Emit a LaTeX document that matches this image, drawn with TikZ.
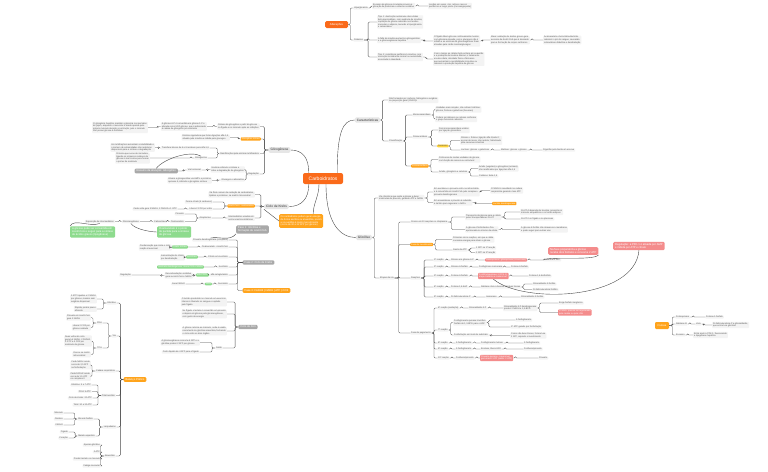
\documentclass[tikz,border=0pt]{standalone}
\usepackage{fontspec}
\setmainfont{Liberation Sans}
\definecolor{mainor}{HTML}{FA6A1A}
\definecolor{ortwo}{HTML}{FFA41C}
\definecolor{grnode}{HTML}{A9A9A9}
\definecolor{ltnode}{HTML}{E6E6E6}
\definecolor{gnnode}{HTML}{8EDB8E}
\definecolor{rdnode}{HTML}{F48C8C}
\definecolor{ylnode}{HTML}{FFD43B}
\definecolor{boxbg}{HTML}{F3F3F3}
\definecolor{txt}{HTML}{555555}
\definecolor{ln}{HTML}{4A4A4A}
\tikzset{
 tb/.style={fill=boxbg, text=txt, rounded corners=0.8pt, inner xsep=1pt, inner ysep=0.7pt, align=left, font=\fontsize{2.2}{2.6}\selectfont},
 bR/.style={tb, anchor=west}, bL/.style={tb, anchor=east},
 orb/.style={fill=ortwo, text=white},
 grb/.style={fill=grnode, text=white},
 gnb/.style={fill=gnnode, text=white},
 rdb/.style={fill=rdnode, text=white},
 ylb/.style={fill=ylnode, text=txt},
 ltb/.style={tb, fill=ltnode, text=black!80, font=\fontsize{3.2}{3.8}\selectfont, inner xsep=2pt, inner ysep=1.4pt, rounded corners=1.5pt},
 big/.style={font=\fontsize{2.7}{3.2}\selectfont, inner ysep=1.2pt, inner xsep=2pt, rounded corners=1.2pt},
 cn/.style={draw=ln, line width=0.35pt, rounded corners=1.2pt},
 rel/.style={draw=ln, line width=0.4pt},
}
\newcommand\rk[3]{\foreach \q in {#3}{\draw[cn] (#1.east) -- ++(#2,0) |- (\q.west);}}
\newcommand\lk[3]{\foreach \q in {#3}{\draw[cn] (#1.west) -- ++(-#2,0) |- (\q.east);}}
\begin{document}
\begin{tikzpicture}[x=1pt,y=-1pt]
\fill[white] (0,0) rectangle (768,471);
\useasboundingbox (0,0) rectangle (768,471);

% ---------- central
\node[fill=mainor, text=white, rounded corners=2pt, font=\fontsize{5}{6}\selectfont, minimum width=40pt, minimum height=11pt, inner sep=1pt] (cb) at (323,178.5) {Carboidratos};

% ---------- Alteracoes (top)
\node[fill=mainor, text=white, rounded corners=1.5pt, font=\fontsize{2.8}{3.2}\selectfont, minimum width=23pt, minimum height=7pt, inner sep=0.5pt] (alt) at (336.5,24.5) {Alterações};
\node[bR] (A1) at (353,8) {Hiperglicemia};
\node[bR] (A11) at (372,6) {Excesso de glicose circulante provoca a\\glicação de proteínas e estresse oxidativo};
\node[bR] (A111) at (428,6) {Lesões em vasos, rins, retina e nervos\\periféricos a longo prazo (microangiopatia)};
\node[bR] (A2) at (353,40) {Diabetes};
\node[bR] (A21) at (377,22) {Tipo 1: destruição autoimune das células\\beta pancreáticas, com ausência de insulina;\\captação de glicose reduzida nos tecidos\\muscular e adiposo, levando a hiperglicemia\\e cetoacidose};
\node[bR] (A22) at (377,40) {A falta de insulina aumenta a glicogenólise\\e a gliconeogênese hepática};
\node[bR] (A23) at (377,57) {Tipo 2: resistência periférica à insulina, com\\secreção inicialmente normal ou aumentada,\\associada à obesidade};
\node[bR] (A221) at (433,41) {O fígado libera glicose continuamente mesmo\\com glicemia elevada, pois o glucagon não é\\inibido e as enzimas da gliconeogênese ficam\\ativadas pela razão insulina/glucagon};
\node[bR] (A2211) at (490,40) {Maior oxidação de ácidos graxos gera\\excesso de Acetil-CoA que é desviado\\para a formação de corpos cetônicos};
\node[bR] (A22111) at (543,40) {Acetoacetato e beta-hidroxibutirato\\reduzem o pH do sangue, causando\\cetoacidose diabética e desidratação};
\node[bR] (A231) at (433,59) {Com o tempo as células beta entram em exaustão\\e a produção de insulina diminui; o tratamento\\envolve dieta, atividade física e fármacos\\que aumentam a sensibilidade à insulina ou\\reduzem a produção hepática de glicose};
\rk{alt}{2}{A1,A2}
\rk{A1}{2}{A11}\rk{A11}{2}{A111}
\rk{A2}{4}{A21,A22,A23}
\rk{A22}{3}{A221}\rk{A221}{2}{A2211}\rk{A2211}{2}{A22111}\rk{A23}{3}{A231}

% ---------- Caracteristicas
\node[ltb] (C0) at (367.5,120) {Características};
\node[bR] (C1) at (388,100) {São formados por carbono, hidrogênio e oxigênio\\na proporção geral (CH2O)n};
\node[bR] (C2) at (388,141) {Classificação};
\node[bR] (C21) at (412,115) {Monossacarídeos};
\node[bR] (C211) at (435,109.5) {Unidades mais simples, não sofrem hidrólise:\\glicose, frutose e galactose (hexoses)};
\node[bR] (C212) at (435,119) {Podem ser aldoses ou cetoses conforme\\o grupo funcional carbonila};
\node[bR] (C22) at (412,137) {Dissacarídeos};
\node[bR] (C221) at (438,130) {Dois monossacarídeos unidos\\por ligação glicosídica};
\node[bR,ylb] (C222) at (437,146) {Sacarose};
\node[bR] (C2221) at (460,140.5) {Glicose + frutose, ligação alfa-1,beta-2;\\açúcar de mesa, não redutor, hidrolisado\\pela sacarase intestinal};
\node[bR] (C2222) at (460,150) {Lactose: glicose + galactose};
\node[bR] (C2223) at (500,150) {Maltose: glicose + glicose};
\node[bR] (C2224) at (542,150) {Digestão pela borda em escova};
\node[bR,orb] (C23) at (411,166) {Polissacarídeos};
\node[bR] (C231) at (438,159.5) {Polímeros de muitas unidades de glicose\\com função de reserva ou estrutural};
\node[bR] (C232) at (438,172) {Amido, glicogênio e celulose};
\node[bR] (C2321) at (478,168.5) {Amido (vegetais) e glicogênio (animais)\\são ramificados por ligações alfa-1,6};
\node[bR] (C2322) at (478,176) {Celulose: beta-1,4};
\rk{C0}{2}{C1,C2}
\rk{C2}{2}{C21,C22,C23}
\rk{C21}{2}{C211,C212}
\rk{C22}{3}{C221,C222}
\rk{C222}{1.5}{C2221,C2222}
\rk{C2222}{2}{C2223}\rk{C2223}{3}{C2224}
\rk{C23}{2}{C231,C232}
\rk{C232}{2}{C2321,C2322}

% ---------- Glicolise
\node[ltb] (G0) at (364,237.5) {Glicólise};
\node[bR] (G1) at (378,198) {Via citosólica que oxida a glicose a duas\\moléculas de piruvato, gerando ATP e NADH};
\node[bR] (G11) at (433,192) {Em aerobiose o piruvato entra na mitocôndria\\e é convertido em Acetil-CoA pelo complexo\\piruvato desidrogenase};
\node[bR] (G111) at (490,190.5) {O NADH é reoxidado na cadeia\\respiratória gerando mais ATP};
\node[bR] (G12) at (433,202.5) {Em anaerobiose o piruvato é reduzido\\a lactato para regenerar o NAD+};
\node[bR,orb] (G121) at (492,203.5) {Lactato desidrogenase};
\node[bR] (G2) at (379,278) {Etapas da via};
\node[bR] (G21) at (410,222) {Ocorre em 10 reações no citoplasma};
\node[bR] (G211) at (465,217) {Transporte da glicose para a célula\\pelos transportadores GLUT};
\node[bR] (G2111) at (520,212) {GLUT-4 depende de insulina, presente no\\músculo esquelético e no tecido adiposo};
\node[bR] (G2112) at (520,219) {GLUT-2 no fígado e no pâncreas};
\node[bR] (G212) at (465,229.5) {A glicose é fosforilada e fica\\aprisionada no interior da célula};
\node[bR] (G2121) at (520,229.5) {A glicose-6-fosfato não atravessa a membrana\\e pode seguir para outras vias};
\node[bR,orb] (G22) at (410,244.5) {Fase de investimento};
\node[bR] (G221) at (452,239.5) {Primeiras cinco reações, em que a célula\\consome energia para ativar a glicose};
\node[bR] (G222) at (452,250) {Gasto de ATP};
\node[bR] (G2221) at (475,248) {1 ATP na 1ª reação};
\node[bR] (G2222) at (475,252.5) {1 ATP na 3ª reação};
\node[bR] (G23) at (410,278) {Reações};
\node[bR] (G24) at (410,333) {Fase de pagamento};
\rk{G0}{2}{G1,G2}
\rk{G1}{3}{G11,G12}\rk{G11}{1}{G111}\rk{G12}{3}{G121}
\rk{G2}{4}{G21,G22,G23,G24}
\rk{G21}{3}{G211,G212}\rk{G211}{3}{G2111,G2112}\rk{G212}{3}{G2121}
\rk{G22}{2}{G221,G222}\rk{G222}{2}{G2221,G2222}

% rows of investment phase
\node[bR] (r1a) at (433,260) {1ª reação};
\node[bR] (r1b) at (450,260) {Glicose em glicose-6-P};
\node[bR,rdb] (r1c) at (485,260) {Hexoquinase / glicoquinase (irreversível)};
\node[bR] (r1d) at (543,260) {Consome 1 ATP};
\node[bR] (r2a) at (433,267) {2ª reação};
\node[bR] (r2b) at (450,267) {Glicose-6-fosfato};
\node[bR] (r2c) at (478,267) {Fosfoglicose isomerase};
\node[bR] (r2d) at (510,267) {Frutose-6-fosfato};
\node[bR] (r3a) at (433,276) {3ª reação};
\node[bR] (r3b) at (450,276) {Frutose-6-fosfato};
\node[bR,rdb] (r3c) at (478,276) {Fosfofrutoquinase-1 (PFK-1),\\etapa limitante e irreversível};
\node[bR] (r3d) at (528,276) {Frutose-1,6-bisfosfato};
\node[bR] (r4a) at (433,287) {4ª reação};
\node[bR] (r4b) at (450,287) {Frutose-1,6-bisP};
\node[bR] (r4c) at (480,287) {Aldolase cliva a hexose em duas trioses};
\node[bR] (r4d) at (532,284) {Gliceraldeído-3-fosfato};
\node[bR] (r4e) at (532,289.5) {Di-hidroxiacetona fosfato};
\node[bR] (r5a) at (433,297) {5ª reação};
\node[bR] (r5b) at (450,297) {Di-hidroxiacetona-P};
\node[bR] (r5c) at (485,297) {Isomerase};
\node[bR] (r5d) at (520,297) {Gliceraldeído-3-fosfato};
\rk{G23}{3}{r1a,r2a,r3a,r4a,r5a}
\rk{r1a}{2}{r1b}\rk{r1b}{2}{r1c}\rk{r1c}{2}{r1d}
\rk{r2a}{2}{r2b}\rk{r2b}{2}{r2c}\rk{r2c}{1}{r2d}
\rk{r3a}{2}{r3b}\rk{r3b}{2}{r3c}\rk{r3c}{2}{r3d}
\rk{r4a}{2}{r4b}\rk{r4b}{2}{r4c}\rk{r4c}{2}{r4d,r4e}
\rk{r5a}{2}{r5b}\rk{r5b}{3}{r5c}\rk{r5c}{3}{r5d}

% rows of payoff phase
\node[bR] (sAa) at (437,308) {6ª reação (oxidação)};
\node[bR] (sAb) at (468,308) {Gliceraldeído-3-P};
\node[bR] (sAc) at (503,308) {Gliceraldeído-3-P desidrogenase\\produz 2 NADH e 1,3-BPG};
\node[bR] (sAd) at (558,303) {Exige fosfato inorgânico};
\node[bR,rdb] (sAe) at (558,312.5) {O NAD+ precisa ser regenerado\\pela cadeia ou pela LDH};
\node[bR] (sBa) at (437,330) {7ª reação};
\node[bR] (sB1) at (453,322.5) {Fosfoglicerato quinase transfere\\fosfato do 1,3-BPG para o ADP};
\node[bR] (sB11) at (515,320) {3-fosfoglicerato};
\node[bR] (sB12) at (510,327) {1º ATP gerado por fosforilação};
\node[bR] (sB2) at (453,335) {Fosforilação em nível de substrato};
\node[bR] (sB21) at (510,335.5) {Como são duas trioses, formam-se\\2 ATP, repondo o investimento};
\node[bR] (sCa) at (437,343) {8ª reação};
\node[bR] (sCb) at (455,343) {3-fosfoglicerato};
\node[bR] (sCc) at (480,343) {Fosfoglicerato mutase};
\node[bR] (sCd) at (523,343) {2-fosfoglicerato};
\node[bR] (sDa) at (437,349) {9ª reação};
\node[bR] (sDb) at (455,349) {2-fosfoglicerato};
\node[bR] (sDc) at (480,349) {Enolase, libera H2O};
\node[bR] (sDd) at (523,349) {Fosfoenolpiruvato};
\node[bR] (sEa) at (437,358) {10ª reação};
\node[bR] (sEb) at (455,358) {Fosfoenolpiruvato};
\node[bR,rdb] (sEc) at (480,358) {Piruvato quinase, irreversível,\\gera mais 2 ATP (saldo: 2 ATP)};
\node[bR] (sEd) at (538,358) {Piruvato};
\rk{G24}{2}{sAa,sBa,sCa,sDa,sEa}
\rk{sAa}{2}{sAb}\rk{sAb}{2}{sAc}\rk{sAc}{2}{sAd,sAe}
\rk{sBa}{2}{sB1,sB2}\rk{sB1}{2}{sB11,sB12}\rk{sB2}{2}{sB21}
\rk{sCa}{2}{sCb}\rk{sCb}{2}{sCc}\rk{sCc}{3}{sCd}
\rk{sDa}{2}{sDb}\rk{sDb}{2}{sDc}\rk{sDc}{3}{sDd}
\rk{sEa}{2}{sEb}\rk{sEb}{2}{sEc}\rk{sEc}{2}{sEd}

% floating red nodes
\node[tb,big,rdb,anchor=west] (R1) at (548,251) {Na fase preparatória a glicose\\recebe dois fosfatos e consome 2 ATP};
\node[tb,big,rdb,anchor=west] (R2) at (613,246) {Regulação: a PFK-1 é ativada por AMP\\e inibida por ATP e citrato};
\draw[rel] (r1d.west) .. controls +(8,-4) and +(-6,6) .. (R1.south east);
\draw[rel] (R2.south) .. controls +(-4,50) and +(30,25) .. (r3c.south);

% ---------- Frutose
\node[fill=ortwo, text=white, rounded corners=1.2pt, font=\fontsize{2.6}{3}\selectfont, minimum width=14pt, minimum height=7pt, inner sep=0.5pt] (F0) at (662,325.5) {Frutose};
\node[bR] (F1) at (675,317) {Frutoquinase};
\node[bR] (F11) at (705,317) {Frutose-1-fosfato};
\node[bR] (F2) at (675,324) {Aldolase B};
\node[bR] (F21) at (695,324) {cliva};
\node[bR] (F211) at (712,325) {Di-hidroxiacetona-P e gliceraldeído,\\que entram na glicólise};
\node[bR] (F3) at (675,335) {Excesso};
\node[bR] (F31) at (693,335) {Entra após a PFK-1, favorecendo\\a lipogênese hepática};
\rk{F0}{3}{F1,F2,F3}
\rk{F1}{3}{F11}\rk{F2}{2}{F21}\rk{F21}{2}{F211}\rk{F3}{2}{F31}

% ---------- Glicogenese (left)
\node[ltb] (L0) at (279.5,150) {Glicogênese};
\node[bL] (L1) at (260,126.5) {Síntese de glicogênio a partir da glicose\\no fígado e no músculo após as refeições};
\node[bL] (L11) at (207,126.5) {A glicose-6-P é convertida em glicose-1-P e\\ativada como UDP-glicose, que é adicionada\\à cadeia de glicogênio pré-existente};
\node[bL] (L111) at (148,127.5) {O glicogênio hepático mantém a glicemia nos períodos\\de jejum, enquanto o muscular é usado apenas pelo\\próprio músculo durante a contração, pois o músculo\\não possui glicose-6-fosfatase};
\node[bL,orb] (L2) at (261,139) {Glicogênio sintase};
\node[bL] (L21) at (230,137.5) {Enzima reguladora que forma ligações alfa-1,4,\\ativada pela insulina e inibida pelo glucagon};
\node[bL] (L3) at (260,153.5) {Ramificações pela enzima ramificadora};
\node[bL] (L31) at (210,148) {Transfere blocos de 6 a 8 resíduos para alfa-1,6};
\node[bL] (L311) at (155,147.5) {As ramificações aumentam a solubilidade e\\o número de extremidades não redutoras\\disponíveis para a síntese e degradação};
\node[bL] (L32) at (208,158) {Glicogenina};
\node[bL] (L321) at (150,158) {Proteína que serve de iniciadora,\\ligando os primeiros resíduos de\\glicose à sua tirosina para formar\\o primer da molécula};
\node[bL] (L4) at (260,174) {Regulação};
\node[bL] (L41) at (245,169.5) {Insulina estimula a síntese e\\inibe a degradação do glicogênio};
\node[bL] (L411) at (202,170) {Via hormonal};
\node[tb,big,grb,anchor=east] (LG) at (178,171) {Resumo da ativação: Glicogênio};
\node[bL] (L42) at (245,180) {Glucagon e adrenalina};
\node[bL] (L421) at (212,180.5) {Ativam a glicogenólise via AMPc e proteína\\quinase A, inibindo a glicogênio sintase};
\lk{L0}{4}{L1,L2,L3,L4}
\lk{L1}{3}{L11}\lk{L11}{3}{L111}\lk{L2}{2}{L21}
\lk{L3}{2}{L31,L32}\lk{L31}{2}{L311}\lk{L32}{3}{L321}
\lk{L4}{1}{L41,L42}\lk{L41}{3}{L411}\lk{L411}{3}{LG}\lk{L42}{3}{L421}
\draw[rel] (LG.north) .. controls +(8,-10) and +(-10,-6) .. (L32.north);

% ---------- Ciclo de Krebs (left)
\node[ltb] (K0) at (276.5,206.5) {Ciclo de Krebs};
\node[bL] (K1) at (255,194.5) {Via final comum da oxidação de carboidratos,\\lipídios e proteínas, na matriz mitocondrial};
\node[bL,orb] (K2) at (255,206) {Acetil-CoA + oxaloacetato};
\node[bL] (K21) at (213,202) {Forma citrato (6 carbonos)};
\node[bL] (K22) at (213,209) {Libera 2 CO2 por volta};
\node[bL] (K221) at (178,209) {Cada volta gera 3 NADH, 1 FADH2 e 1 GTP};
\node[bL] (K3) at (255,218) {Intermediários usados em\\outras vias biossintéticas};
\node[bL] (K31) at (212,218) {Anaplerose};
\node[bL] (K311) at (185,214) {Piruvato};
\node[bL] (K312) at (185,221.5) {Oxaloacetato};
\node[bL] (K3121) at (167,221.5) {Carboxilase};
\node[bL] (K31211) at (140,221.5) {Gliconeogênese};
\node[bL] (K312111) at (115,221.5) {Reposição de intermediários};
\node[tb,big,gnb,anchor=west] (GN1) at (70,232) {A glicose pode ser convertida em\\Acetil-CoA e seguir para a síntese\\de ácidos graxos (lipogênese)};
\node[tb,big,gnb,anchor=west] (GN2) at (157,232) {Oxaloacetato é o ponto\\de partida para a síntese\\de glicose};
\node[tb,orb,anchor=west,font=\fontsize{2.4}{2.9}\selectfont,inner sep=1.5pt,rounded corners=1.5pt] (KO) at (279,221) {Os carboidratos podem gerar energia\\de forma aeróbia ou anaeróbia, porém\\a via aeróbia é muito mais eficiente\\(cerca de 30 a 32 ATP por glicose)};
\lk{K0}{3}{K1,K2,K3}
\lk{K2}{3}{K21,K22}\lk{K22}{3}{K221}
\lk{K3}{3}{K31}\lk{K31}{2}{K311,K312}\lk{K312}{2}{K3121}\lk{K3121}{2}{K31211}\lk{K31211}{2}{K312111}
\draw[rel] (GN1.north west) .. controls +(4,-8) and +(-10,4) .. (K312111.south);
\draw[rel] (K31211.south) .. controls +(4,6) and +(-6,0) .. (GN2.west);

% ---------- Fases (left)
\node[tb,big,grb,anchor=center] (F1g) at (252.5,229.5) {Fase 1: Glicólise e\\formação de Acetil-CoA};
\node[tb,big,grb,anchor=center] (F2g) at (258.5,262.5) {Fase 2: Ciclo de Krebs};
\node[tb,big,orb,anchor=center] (F3g) at (266.5,290.5) {Fase 3: FADH2 | NADH | ATP | CO2};
\node[bL] (q0) at (229,240) {Piruvato desidrogenase (complexo)};
\node[bL] (q1c) at (229,247) {Oxaloacetato + Acetil-CoA};
\node[bL,gnb] (q1b) at (188,247) {Citrato sintase};
\node[bL] (q1a) at (172,247.5) {Condensação que inicia o ciclo,\\reação irreversível};
\node[bL] (q2c) at (229,257) {Citrato em isocitrato};
\node[bL,gnb] (q2b) at (198,257) {Aconitase};
\node[bL] (q2a) at (185,257.5) {Isomerização do citrato\\por desidratação};
\node[bL] (q3c) at (229,267) {Isocitrato};
\node[bL,gnb] (q3b) at (204,267) {Isocitrato desidrogenase: libera CO2 e NADH};
\node[bL] (q4d) at (229,275) {alfa-cetoglutarato};
\node[bL,gnb] (q4c) at (209,275) {alfa-CGDH};
\node[bL] (q4b) at (193,275.5) {Descarboxilação oxidativa,\\gera succinil-CoA e NADH};
\node[bL] (q4a) at (132,275) {Regulação};
\node[bL] (q5c) at (229,284) {Succinato};
\node[bL,gnb] (q5b) at (212,284) {SDH};
\node[bL] (q5a) at (186,284) {Gera FADH2};
\lk{F2g}{5}{q0,q1c,q2c,q3c,q4d,q5c}
\draw[cn] (F2g.west) -- ++(-5,0) |- (F3g.west);
\lk{q1c}{2}{q1b}\lk{q1b}{2}{q1a}
\lk{q2c}{2}{q2b}\lk{q2b}{2}{q2a}
\lk{q3c}{2}{q3b}
\lk{q4d}{2}{q4c}\lk{q4c}{2}{q4b}\lk{q4b}{3}{q4a}
\lk{q5c}{2}{q5b}\lk{q5b}{3}{q5a}
\draw[rel] (F1g.south west) .. controls +(-6,8) and +(8,-2) .. (q0.north);

% ---------- Ciclo de Cori
\node[tb,big,grb,anchor=center] (CC) at (248,327) {Ciclo de Cori};
\node[bL] (CC1) at (227,302) {O lactato produzido no músculo em exercício\\intenso é liberado no sangue e captado\\pelo fígado};
\node[bL] (CC2) at (227,314) {No fígado o lactato é convertido em piruvato\\e depois em glicose pela gliconeogênese,\\com gasto de energia};
\node[bL] (CC3) at (227,331) {A glicose retorna ao músculo, onde é usada\\novamente na glicólise anaeróbia, fechando\\o ciclo entre os dois órgãos};
\node[bL] (CC4) at (223,348) {Saldo};
\node[bL] (CC41) at (200,342.5) {A gliconeogênese consome 6 ATP e a\\glicólise produz 2 ATP por glicose};
\node[bL] (CC42) at (200,352) {Custo líquido de 4 ATP para o fígado};
\lk{CC}{3}{CC1,CC2,CC3,CC4}
\lk{CC4}{3}{CC41,CC42}

% ---------- Balanco Pratico
\node[tb,big,orb,anchor=center] (BP) at (135,379.5) {Balanço Prático};
\node[bL] (P1) at (117,303) {Glicólise};
\node[bL] (P11) at (97,299) {2 ATP líquidos e 2 NADH\\por glicose, mesmo sem\\oxigênio disponível};
\node[bL] (P12) at (97,309) {Rápida, porém pouco\\eficiente};
\node[bL] (P2) at (117,336) {Via};
\node[bL] (P21) at (103,323) {PDH};
\node[bL] (P211) at (91,317.5) {Piruvato em Acetil-CoA\\gera 2 NADH};
\node[bL] (P212) at (91,327.5) {Libera 2 CO2 por\\glicose oxidada};
\node[bL] (P22) at (103,348) {TCA};
\node[bL] (P221) at (92,341) {Duas voltas do ciclo\\geram 6 NADH, 2 FADH2,\\2 GTP e 4 CO2 por\\molécula de glicose};
\node[bL] (P222) at (91,354.5) {Ocorre na matriz\\mitocondrial};
\node[bL] (P3) at (116,371) {Cadeia respiratória};
\node[bL] (P31) at (91,365) {Cada NADH rende\\cerca de 2,5 ATP\\na fosforilação};
\node[bL] (P32) at (91,376.5) {Cada FADH2 rende\\cerca de 1,5 ATP\\no complexo II};
\node[bL] (P4) at (116,395.5) {Total aeróbio};
\node[bL] (P41) at (92,385) {Glicólise: 5 a 7 ATP};
\node[bL] (P42) at (92,391.5) {PDH: 5 ATP};
\node[bL] (P43) at (93,398) {Ciclo de Krebs: 20 ATP};
\node[bL] (P44) at (93,405) {Total: 30 a 32 ATP};
\node[bL] (P5) at (117,427) {Lançadeiras};
\node[bL] (P51) at (94,419) {Glicerol-fosfato};
\node[bL] (P511) at (64,413) {Músculo};
\node[bL] (P512) at (64,419) {Cérebro};
\node[bL] (P513) at (64,425) {FADH2};
\node[bL] (P52) at (96,436) {Malato-aspartato};
\node[bL] (P521) at (69,432) {Fígado};
\node[bL] (P522) at (69,438) {Coração};
\node[bL] (P6) at (116,456) {Anaeróbio};
\node[bL] (P61) at (101,445) {Apenas glicólise};
\node[bL] (P62) at (101,452) {2 ATP};
\node[bL] (P63) at (101,459) {Produz lactato no músculo};
\node[bL] (P64) at (101,466) {Fadiga muscular};
\lk{BP}{3}{P1,P2,P3,P4,P5,P6}
\lk{P1}{3}{P11,P12}
\lk{P2}{3}{P21,P22}\lk{P21}{3}{P211,P212}\lk{P22}{3}{P221,P222}
\lk{P3}{3}{P31,P32}
\lk{P4}{3}{P41,P42,P43,P44}
\lk{P5}{3}{P51,P52}\lk{P51}{2}{P511,P512,P513}\lk{P52}{2}{P521,P522}
\lk{P6}{3}{P61,P62,P63,P64}

% ---------- main curves
\draw[rel] ([xshift=6pt]cb.north west) .. controls +(0,-15) and +(12,0) .. (L0.east);
\draw[rel] ([xshift=6pt]cb.south west) .. controls +(0,15) and +(12,0) .. (K0.east);
\draw[rel] ([xshift=-6pt]cb.north east) .. controls +(0,-40) and +(-12,0) .. (C0.west);
\draw[rel] ([xshift=3pt]cb.south) .. controls +(0,40) and +(-15,0) .. (G0.west);
\draw[rel] ([xshift=-4pt]cb.south) .. controls +(0,12) and +(0,-10) .. ([xshift=12pt]KO.north);
\draw[rel] (K0.south west) -- (KO.west);
\end{tikzpicture}
\end{document}
